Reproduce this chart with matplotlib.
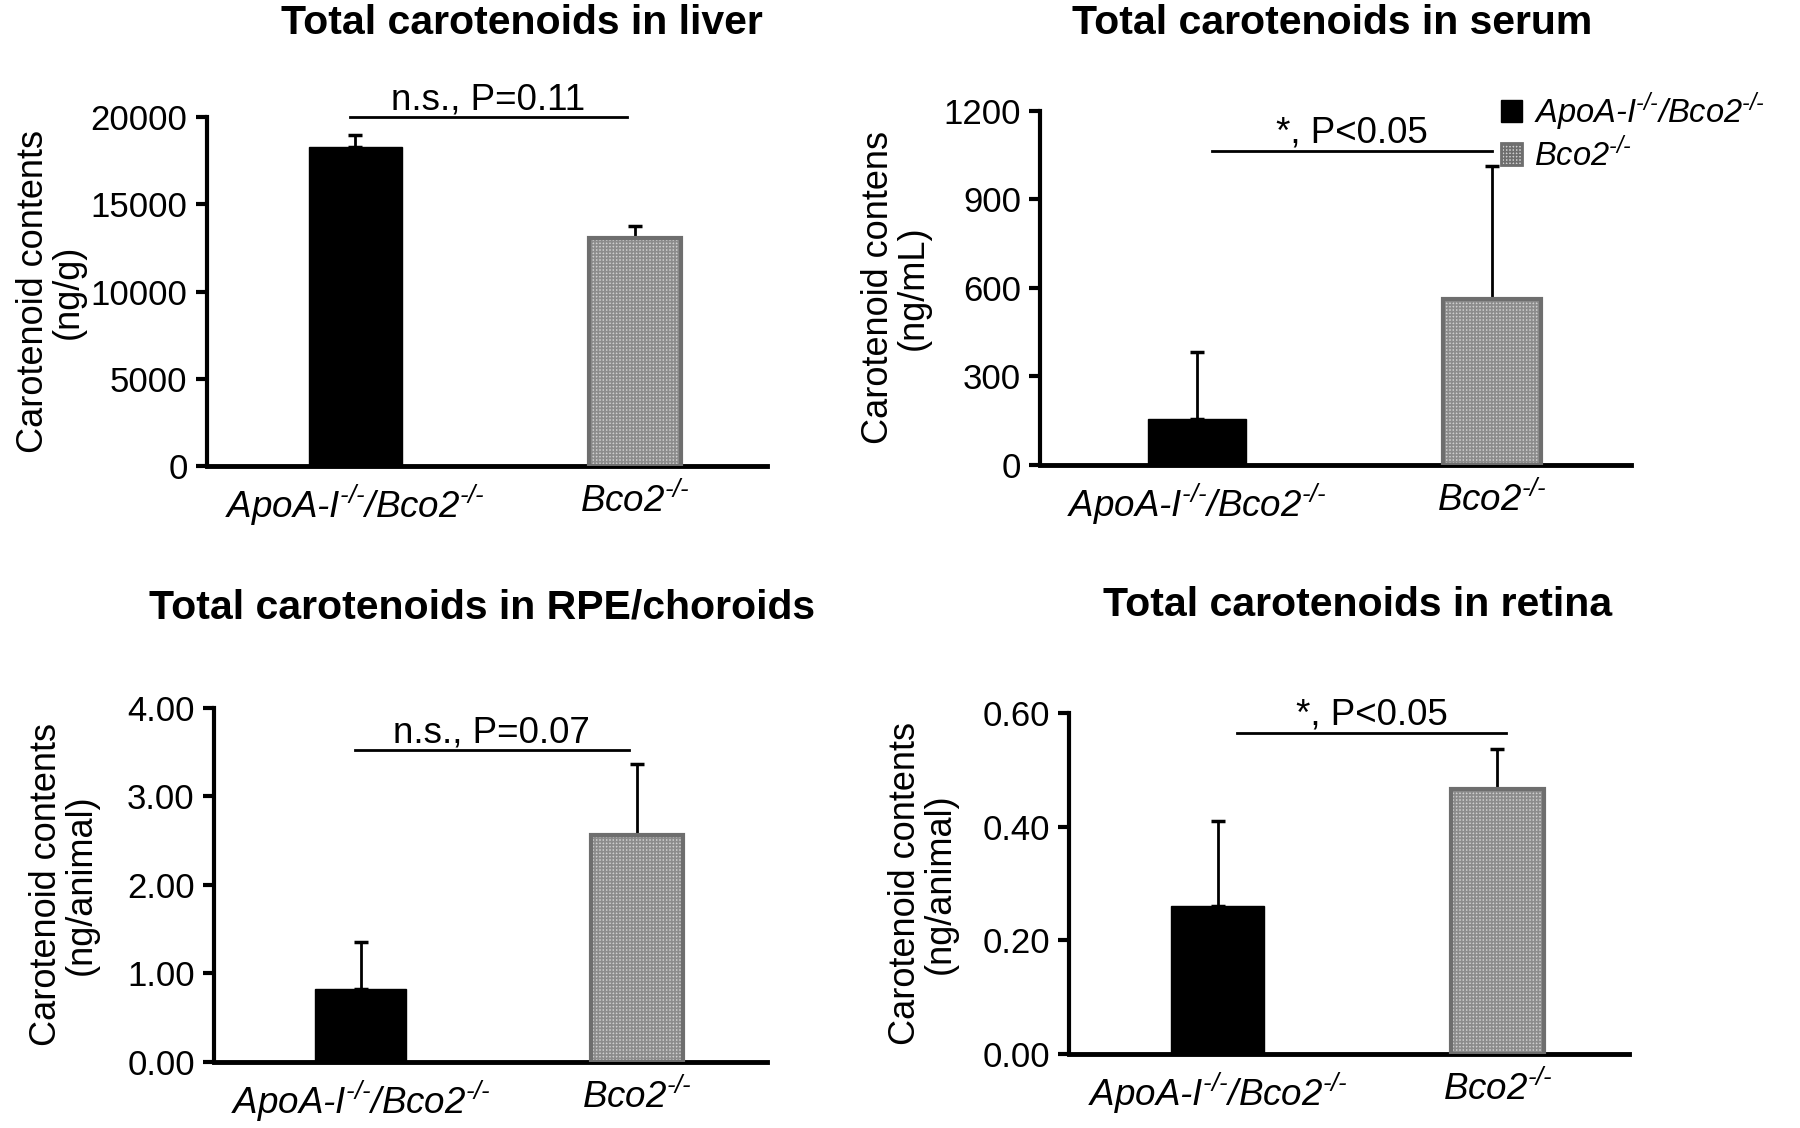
import matplotlib.pyplot as plt
from matplotlib.patches import Patch

plt.rcParams['font.family'] = ['Liberation Sans', 'DejaVu Sans']
plt.rcParams['mathtext.fontset'] = 'custom'
plt.rcParams['mathtext.rm'] = 'Liberation Sans:italic'
plt.rcParams['mathtext.it'] = 'Liberation Sans:italic'
plt.rcParams['hatch.linewidth'] = 1.2

# groups
groups = ['ApoA-I$^{\\text{-/-}}$/Bco2$^{\\text{-/-}}$', 'Bco2$^{\\text{-/-}}$']

titles = ['Total carotenoids in liver', 'Total carotenoids in serum',
          'Total carotenoids in RPE/choroids', 'Total carotenoids in retina']
ylabels = ['Carotenoid contents\n(ng/g)', 'Carotenoid contens\n(ng/mL)',
           'Carotenoid contents\n(ng/animal)', 'Carotenoid contents\n(ng/animal)']

liver_mean = [18300, 13100]
liver_err = [700, 650]
serum_mean = [156, 561]
serum_err = [226, 452]
rpe_mean = [0.82, 2.56]
rpe_err = [0.54, 0.80]
retina_mean = [0.261, 0.467]
retina_err = [0.149, 0.070]

liver_ticks = [0, 5000, 10000, 15000, 20000]
serum_ticks = [0, 300, 600, 900, 1200]
rpe_ticks = [0, 1, 2, 3, 4]
retina_ticks = [0, 0.2, 0.4, 0.6]

sig_text = ['n.s., P=0.11', '*, P<0.05', 'n.s., P=0.07', '*, P<0.05']
sig_y = [20000, 1064, 3.52, 0.566]

means = [liver_mean, serum_mean, rpe_mean, retina_mean]
errs = [liver_err, serum_err, rpe_err, retina_err]
ticks = [liver_ticks, serum_ticks, rpe_ticks, retina_ticks]
tick_fmt = ['{:.0f}', '{:.0f}', '{:.2f}', '{:.2f}']

# layout (figure fractions)
boxes = [[0.115, 0.587, 0.311, 0.309],
         [0.578, 0.588, 0.328, 0.314],
         [0.119, 0.0585, 0.307, 0.314],
         [0.594, 0.0656, 0.311, 0.302]]
title_pos = [(0.290, 0.980), (0.740, 0.980), (0.268, 0.461), (0.754, 0.464)]
label_x = [-0.216, -0.186, -0.209, -0.199]
sig_span = [(-0.02, 0.97), (0.05, 1.0), (-0.02, 0.97), (0.07, 1.03)]

gray_face = '#cfcfcf'
gray_hatch = '#8c8c8c'
gray_edge = '#6e6e6e'

fig = plt.figure(figsize=(18, 11.28), dpi=100)

for i in range(4):
    ax = fig.add_axes(boxes[i])
    x = [0, 1]
    w = 0.33
    # black bar
    ax.bar(x[0], means[i][0], width=w, color='black', edgecolor='black', zorder=2)
    # dotted gray bar
    ax.bar(x[1], means[i][1], width=w, facecolor=gray_face, edgecolor=gray_hatch,
           hatch='+++++', linewidth=0, zorder=2)
    ax.bar(x[1], means[i][1], width=w, facecolor='none', edgecolor=gray_edge,
           linewidth=3, zorder=3)
    ax.errorbar(x, means[i], yerr=[[0, 0], errs[i]], fmt='none', ecolor='black',
                elinewidth=2, capsize=5, capthick=2.5, zorder=1)

    ax.set_xlim(-0.53, 1.47)
    ax.set_ylim(0, ticks[i][-1])
    ax.set_yticks(ticks[i])
    ax.set_yticklabels([tick_fmt[i].format(t) for t in ticks[i]])
    ax.set_xticks(x)
    ax.set_xticklabels(groups, fontstyle='italic')
    ax.tick_params(axis='x', length=0, labelsize=26.5, pad=12)
    ax.tick_params(axis='y', length=8, width=3, labelsize=25, pad=6)
    for s in ['top', 'right']:
        ax.spines[s].set_visible(False)
    ax.spines['left'].set_linewidth(3)
    ax.spines['bottom'].set_linewidth(3.5)

    ax.set_ylabel(ylabels[i], fontsize=26, linespacing=1.0)
    ax.yaxis.set_label_coords(label_x[i], 0.5)

    # significance line
    ax.plot(sig_span[i], [sig_y[i], sig_y[i]], color='black', lw=2, clip_on=False)
    ax.text(sum(sig_span[i]) / 2, sig_y[i], sig_text[i], ha='center', va='bottom',
            fontsize=26.5, clip_on=False)

    fig.text(title_pos[i][0], title_pos[i][1], titles[i], ha='center', va='center',
             fontsize=29.5, fontweight='bold')

    if i == 1:
        handles = [Patch(facecolor='black', edgecolor='black'),
                   Patch(facecolor=gray_face, edgecolor=gray_edge, hatch='+++++', linewidth=2)]
        leg = ax.legend(handles, groups, loc='upper left', bbox_to_anchor=(0.758, 1.095),
                        frameon=False, fontsize=23.5, handlelength=0.65, handleheight=0.65,
                        handletextpad=0.35, labelspacing=0.12, borderaxespad=0)
        for t in leg.get_texts():
            t.set_fontstyle('italic')

plt.savefig('out.png', dpi=100)
